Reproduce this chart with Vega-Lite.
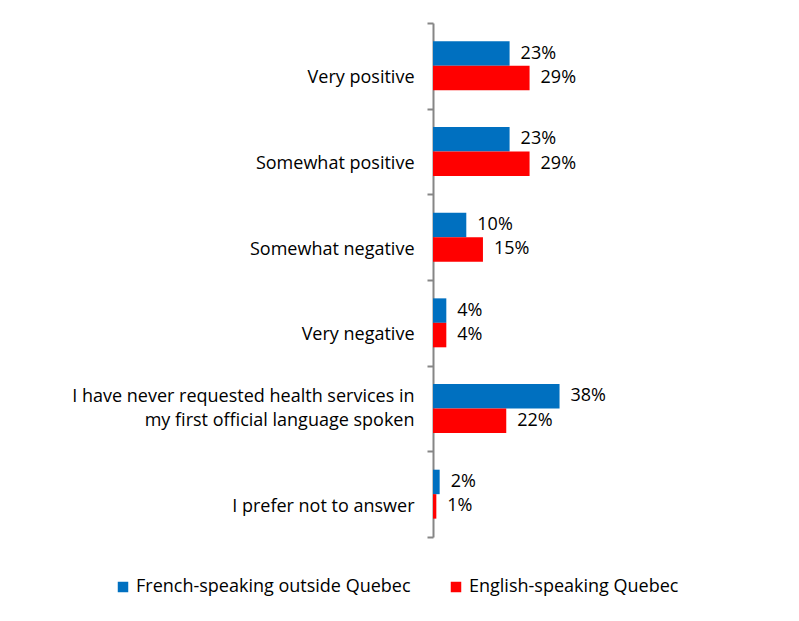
{
  "$schema": "https://vega.github.io/schema/vega-lite/v6.json",
  "width": 333,
  "height": 514,
  "autosize": {"type": "none"},
  "padding": {"left": 433, "top": 23, "right": 33, "bottom": 84},
  "background": "white",
  "data": {"values": [
    {"cat": "Very positive", "group": "French-speaking outside Quebec", "value": 0.23, "label": "23%"},
    {"cat": "Very positive", "group": "English-speaking Quebec", "value": 0.29, "label": "29%"},
    {"cat": "Somewhat positive", "group": "French-speaking outside Quebec", "value": 0.23, "label": "23%"},
    {"cat": "Somewhat positive", "group": "English-speaking Quebec", "value": 0.29, "label": "29%"},
    {"cat": "Somewhat negative", "group": "French-speaking outside Quebec", "value": 0.10, "label": "10%"},
    {"cat": "Somewhat negative", "group": "English-speaking Quebec", "value": 0.15, "label": "15%"},
    {"cat": "Very negative", "group": "French-speaking outside Quebec", "value": 0.04, "label": "4%"},
    {"cat": "Very negative", "group": "English-speaking Quebec", "value": 0.04, "label": "4%"},
    {"cat": "I have never requested health services in|my first official language spoken", "group": "French-speaking outside Quebec", "value": 0.38, "label": "38%"},
    {"cat": "I have never requested health services in|my first official language spoken", "group": "English-speaking Quebec", "value": 0.22, "label": "22%"},
    {"cat": "I prefer not to answer", "group": "French-speaking outside Quebec", "value": 0.02, "label": "2%"},
    {"cat": "I prefer not to answer", "group": "English-speaking Quebec", "value": 0.01, "label": "1%"}
  ]},
  "encoding": {
    "y": {
      "field": "cat", "type": "nominal", "sort": null,
      "scale": {"paddingInner": 0, "paddingOuter": 0},
      "axis": {
        "title": null,
        "tickBand": "extent",
        "labelExpr": "indexof(datum.label, '|') >= 0 ? split(datum.label, '|') : ['', datum.label]",
        "labelFont": "Open Sans",
        "labelFontSize": 18,
        "labelColor": "#000000",
        "labelLineHeight": 24,
        "labelOffset": -12,
        "labelPadding": 13,
        "labelLimit": 500,
        "domainColor": "#868686",
        "domainWidth": 2,
        "tickColor": "#868686",
        "tickWidth": 2,
        "tickSize": 6
      }
    },
    "yOffset": {
      "field": "group", "type": "nominal", "sort": ["French-speaking outside Quebec", "English-speaking Quebec"],
      "scale": {"paddingInner": 0, "paddingOuter": 0.75}
    },
    "x": {
      "field": "value", "type": "quantitative",
      "scale": {"domain": [0, 1]},
      "axis": null
    }
  },
  "layer": [
    {
      "mark": {"type": "bar"},
      "encoding": {
        "color": {
          "field": "group", "type": "nominal",
          "sort": ["French-speaking outside Quebec", "English-speaking Quebec"],
          "scale": {"domain": ["French-speaking outside Quebec", "English-speaking Quebec"], "range": ["#0070C0", "#FF0000"]},
          "legend": {
            "title": null,
            "orient": "none",
            "direction": "horizontal",
            "legendX": -319,
            "legendY": 555,
            "symbolType": "square",
            "symbolSize": 110,
            "symbolStrokeWidth": 0,
            "labelFont": "Open Sans",
            "labelFontSize": 18,
            "labelColor": "#000000",
            "labelLimit": 400,
            "columnPadding": 36,
            "labelOffset": 4
          }
        }
      }
    },
    {
      "mark": {"type": "text", "align": "left", "baseline": "middle", "dx": 11, "font": "Open Sans", "fontSize": 18, "color": "#000000"},
      "encoding": {"text": {"field": "label"}}
    }
  ],
  "config": {"view": {"stroke": null}}
}
